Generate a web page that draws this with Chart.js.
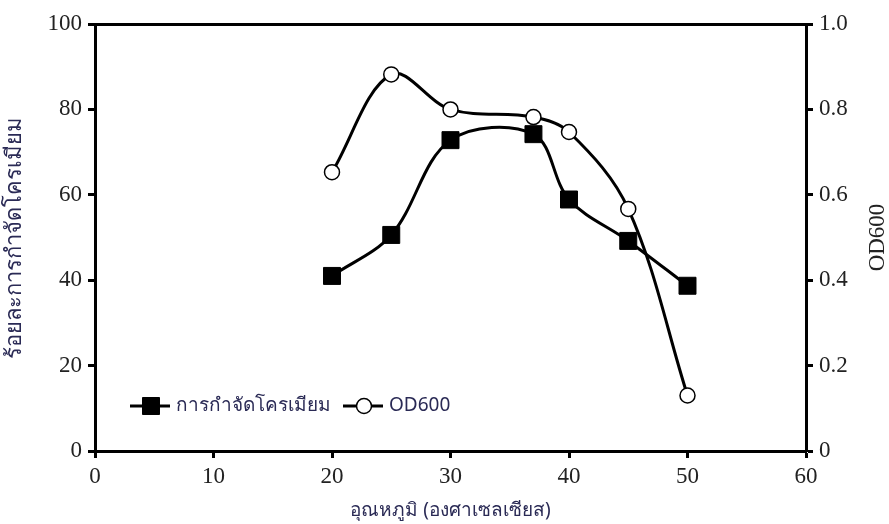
<!DOCTYPE html>
<html lang="th">
<head>
<meta charset="UTF-8">
<title>Chromium removal vs temperature</title>
<script src="https://cdn.jsdelivr.net/npm/chart.js"></script>
<style>
  body { margin: 0; background: #fff; }
  #wrap { width: 889px; height: 524px; }
</style>
</head>
<body>
<div id="wrap"><canvas id="myChart" width="889" height="524"></canvas></div>
<script>
const temps = [20, 25, 30, 37, 40, 45, 50];
const removal = [41, 50.6, 72.8, 74.2, 58.9, 49.2, 38.7];
const od600 = [0.653, 0.882, 0.80, 0.782, 0.747, 0.567, 0.13];

const leftTicks = [0, 20, 40, 60, 80, 100];
const rightTicks = [0, 0.2, 0.4, 0.6, 0.8, 1.0];

const serif = "'Liberation Serif', 'Times New Roman', serif";
const sans = "'Noto Sans', 'DejaVu Sans', sans-serif";

// legend inside the plot, lower left
const innerLegend = {
  id: 'innerLegend',
  afterDraw(chart) {
    const ctx = chart.ctx;
    const y = 406;
    const items = [
      { ds: 0, x0: 130, text: 'การกำจัดโครเมียม' },
      { ds: 1, x0: 343, text: 'OD600' }
    ];
    ctx.save();
    ctx.font = '19px ' + sans;
    ctx.textBaseline = 'middle';
    items.forEach(it => {
      const ds = chart.data.datasets[it.ds];
      ctx.strokeStyle = '#000';
      ctx.lineWidth = 3;
      ctx.beginPath();
      ctx.moveTo(it.x0, y);
      ctx.lineTo(it.x0 + 40, y);
      ctx.stroke();
      ctx.fillStyle = ds.pointBackgroundColor;
      ctx.lineWidth = ds.pointBorderWidth;
      ctx.beginPath();
      if (ds.pointStyle === 'rect') {
        const s = ds.pointRadius * Math.SQRT1_2;
        ctx.rect(it.x0 + 21 - s, y - s, 2 * s, 2 * s);
      } else {
        ctx.arc(it.x0 + 21, y, ds.pointRadius, 0, Math.PI * 2);
      }
      ctx.fill();
      ctx.stroke();
      ctx.fillStyle = '#2a2a55';
      ctx.fillText(it.text, it.x0 + 46, y);
    });
    ctx.restore();
  }
};

// right axis title, reading bottom to top
const rightTitle = {
  id: 'rightTitle',
  afterDraw(chart) {
    const ctx = chart.ctx;
    const a = chart.chartArea;
    ctx.save();
    ctx.translate(878, (a.top + a.bottom) / 2);
    ctx.rotate(-Math.PI / 2);
    ctx.font = '23px ' + serif;
    ctx.fillStyle = '#222';
    ctx.textAlign = 'center';
    ctx.textBaseline = 'middle';
    ctx.fillText('OD600', 0, 0);
    ctx.restore();
  }
};

const axisBorder = { display: true, color: '#000', width: 3 };
const tickGrid = { display: true, drawOnChartArea: false, drawTicks: true, tickLength: 7, tickWidth: 3, color: '#000' };
const tickFont = { family: serif, size: 23 };

new Chart(document.getElementById('myChart'), {
  type: 'line',
  data: {
    datasets: [{
      label: 'การกำจัดโครเมียม',
      data: temps.map((t, i) => ({ x: t, y: removal[i] })),
      yAxisID: 'y',
      borderColor: '#000',
      borderWidth: 3,
      tension: 0.35,
      pointStyle: 'rect',
      pointRadius: 12,
      pointBorderWidth: 1,
      pointBackgroundColor: '#000',
      pointBorderColor: '#000'
    }, {
      label: 'OD600',
      data: temps.map((t, i) => ({ x: t, y: od600[i] })),
      yAxisID: 'y2',
      borderColor: '#000',
      borderWidth: 3,
      tension: 0.35,
      pointStyle: 'circle',
      pointRadius: 7.5,
      pointBorderWidth: 1.5,
      pointBackgroundColor: '#fff',
      pointBorderColor: '#000'
    }]
  },
  options: {
    responsive: false,
    animation: false,
    layout: { padding: 0 },
    plugins: { legend: { display: false }, tooltip: { enabled: false } },
    scales: {
      x: {
        type: 'linear',
        position: 'bottom',
        min: 0, max: 60,
        afterBuildTicks: s => { s.ticks = [0, 10, 20, 30, 40, 50, 60].map(v => ({ value: v })); },
        afterFit: s => { s.height = 73; },
        border: axisBorder,
        grid: tickGrid,
        ticks: { font: tickFont, color: '#222', padding: 5, maxRotation: 0 },
        title: { display: true, text: 'อุณหภูมิ (องศาเซลเซียส)', font: { family: sans, size: 19 }, color: '#2a2a55', padding: { top: 0, bottom: 2 } }
      },
      xTop: {
        type: 'linear',
        position: 'top',
        min: 0, max: 60,
        afterFit: s => { s.height = 24; },
        border: axisBorder,
        grid: { display: false },
        ticks: { display: false }
      },
      y: {
        type: 'linear',
        position: 'left',
        min: 0, max: 100,
        afterBuildTicks: s => { s.ticks = leftTicks.map(v => ({ value: v })); },
        afterFit: s => { s.width = 95; },
        border: axisBorder,
        grid: tickGrid,
        ticks: { font: tickFont, color: '#222', padding: 6 },
        title: { display: true, text: 'ร้อยละการกำจัดโครเมียม', font: { family: sans, size: 22 }, color: '#2a2a55', padding: { top: 2, bottom: 0 } }
      },
      y2: {
        type: 'linear',
        position: 'right',
        min: 0, max: 1,
        afterBuildTicks: s => { s.ticks = rightTicks.map(v => ({ value: v })); },
        afterFit: s => { s.width = 83; },
        border: axisBorder,
        grid: tickGrid,
        ticks: {
          font: tickFont, color: '#222', padding: 6,
          callback: v => v === 0 ? '0' : v.toFixed(1)
        }
      }
    }
  },
  plugins: [innerLegend, rightTitle]
});
</script>
</body>
</html>
